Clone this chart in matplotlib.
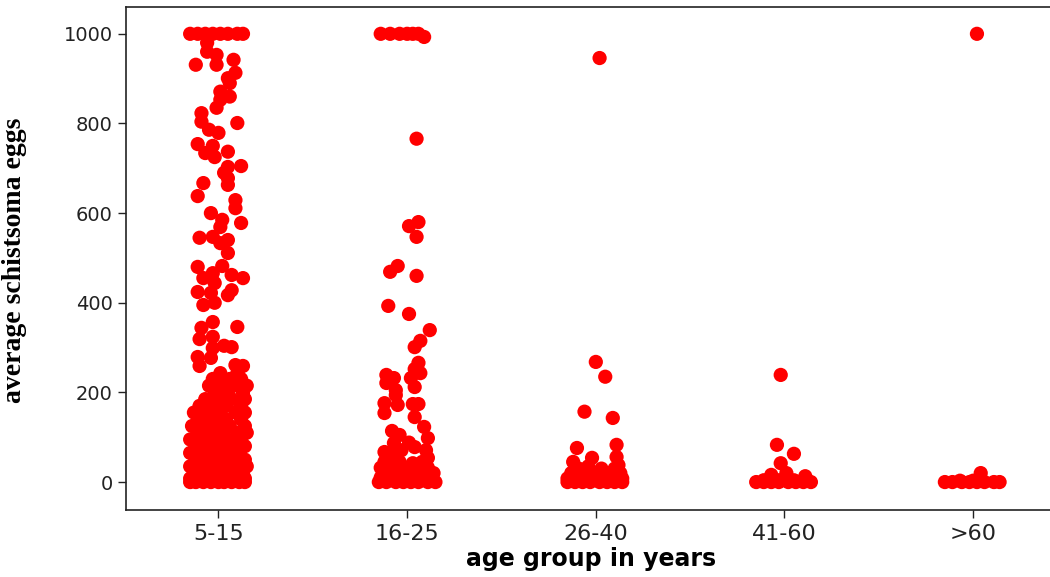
import matplotlib

matplotlib.use('Agg')

import matplotlib.pyplot as plt
import numpy as np

# age groups on the x axis
groups = ['5-15', '16-25', '26-40', '41-60', '>60']

# (average eggs, jitter), one list per group
g1_pts = [
    # the 1000 cap
    (1000, -0.15), (1000, -0.11), (1000, -0.07), (1000, -0.03), (1000, 0.01), (1000, 0.05), (1000, 0.10), (1000, 0.13),
    (980, -0.06), (960, -0.06), (953, -0.01), (931, -0.12), (931, -0.01), (942, 0.08), (913, 0.09), (901, 0.05),
    (890, 0.06), (871, 0.01), (860, 0.06), (853, 0.01), (835, -0.01), (823, -0.09), (804, -0.09), (801, 0.10),
    (786, -0.05), (779, 0.0), (754, -0.11), (750, -0.03), (734, -0.07), (737, 0.05), (725, -0.02), (705, 0.12),
    (703, 0.05), (690, 0.03), (678, 0.05), (667, -0.08), (663, 0.05), (638, -0.11), (629, 0.09), (611, 0.09),
    (600, -0.04), (585, 0.02), (578, 0.12), (569, 0.01), (545, -0.10), (547, -0.03), (540, 0.05), (533, 0.01),
    (511, 0.05), (480, -0.11), (482, 0.02), (466, -0.03), (455, -0.08), (462, 0.07), (455, 0.13), (444, -0.02),
    (424, -0.11), (422, -0.04), (417, 0.05), (428, 0.07), (395, -0.08), (400, -0.02), (357, -0.03), (344, -0.09),
    (346, 0.10), (319, -0.10), (324, -0.03), (299, -0.03), (304, 0.03), (301, 0.07), (279, -0.11), (277, -0.04),
    (259, -0.10), (261, 0.09), (259, 0.13), (243, 0.01), (243, 0.10),
    # dense bottom part
    (230, -0.03), (230, 0.06), (230, 0.12),
    (215, -0.05), (215, 0.02), (215, 0.10), (215, 0.15),
    (200, -0.02), (200, 0.05), (200, 0.13),
    (185, -0.07), (185, 0.0), (185, 0.07), (185, 0.14),
    (170, -0.10), (170, -0.03), (170, 0.04), (170, 0.12),
    (155, -0.13), (155, -0.06), (155, 0.01), (155, 0.09), (155, 0.14),
    (140, -0.10), (140, -0.03), (140, 0.04), (140, 0.12),
    (125, -0.14), (125, -0.07), (125, 0.0), (125, 0.06), (125, 0.14),
    (110, -0.11), (110, -0.04), (110, 0.02), (110, 0.10), (110, 0.15),
    (95, -0.15), (95, -0.08), (95, -0.01), (95, 0.05), (95, 0.12),
    (80, -0.12), (80, -0.05), (80, 0.01), (80, 0.08), (80, 0.14),
    (65, -0.15), (65, -0.09), (65, -0.02), (65, 0.04), (65, 0.11),
    (50, -0.12), (50, -0.06), (50, 0.01), (50, 0.07), (50, 0.14),
    (35, -0.15), (35, -0.09), (35, -0.03), (35, 0.04), (35, 0.10), (35, 0.15),
    (20, -0.13), (20, -0.06), (20, 0.0), (20, 0.06), (20, 0.13),
    (8, -0.15), (8, -0.10), (8, -0.04), (8, 0.02), (8, 0.08), (8, 0.14),
    (0, -0.15), (0, -0.12), (0, -0.08), (0, -0.04), (0, 0.0), (0, 0.03), (0, 0.07), (0, 0.11), (0, 0.14),
]

g2_pts = [
    (1000, -0.14), (1000, -0.09), (1000, -0.04), (1000, 0.0), (1000, 0.03), (1000, 0.06), (993, 0.09),
    (766, 0.05), (571, 0.01), (580, 0.06), (547, 0.05), (469, -0.09), (482, -0.05), (460, 0.05),
    (393, -0.10), (375, 0.01), (339, 0.12), (315, 0.07), (301, 0.04), (266, 0.06), (252, 0.04),
    (243, 0.07), (239, -0.11), (232, -0.07), (221, -0.11), (232, 0.02), (205, -0.06), (212, 0.04),
    (194, -0.06), (176, -0.12), (172, -0.05), (174, 0.03), (174, 0.06), (154, -0.12), (145, 0.04),
    (123, 0.09), (114, -0.08), (98, 0.11), (87, -0.07), (78, 0.04), (71, 0.10), (67, -0.12),
    (71, -0.03), (54, 0.11), (60, -0.08), (88, 0.01), (105, -0.04),
    (45, -0.12), (45, -0.04), (42, 0.03), (45, 0.08),
    (32, -0.14), (32, -0.08), (32, -0.01), (30, 0.05), (32, 0.11),
    (20, -0.11), (20, -0.05), (20, 0.01), (20, 0.08), (20, 0.14),
    (10, -0.14), (10, -0.08), (10, -0.02), (10, 0.04), (10, 0.10),
    (0, -0.15), (0, -0.11), (0, -0.06), (0, -0.02), (0, 0.02), (0, 0.06), (0, 0.11), (0, 0.15),
]

g3_pts = [
    (946, 0.02), (268, 0.0), (235, 0.05), (157, -0.06), (143, 0.09), (76, -0.10), (83, 0.11),
    (54, -0.02), (56, 0.11), (45, -0.12), (38, 0.12),
    (30, -0.09), (30, 0.03), (30, 0.10), (35, -0.04),
    (20, -0.13), (20, -0.05), (20, 0.01), (20, 0.06), (20, 0.13),
    (8, -0.15), (8, -0.07), (8, 0.0), (8, 0.07), (8, 0.14),
    (0, -0.15), (0, -0.11), (0, -0.07), (0, -0.03), (0, 0.02), (0, 0.06), (0, 0.10), (0, 0.14),
]

g4_pts = [
    (239, -0.02), (83, -0.04), (63, 0.05), (42, -0.02), (16, -0.07), (20, 0.01), (13, 0.11),
    (4, -0.11), (4, -0.03), (4, 0.05),
    (0, -0.15), (0, -0.11), (0, -0.07), (0, -0.03), (0, 0.02), (0, 0.06), (0, 0.10), (0, 0.14),
]

g5_pts = [
    (1000, 0.02), (20, 0.04), (3, -0.07), (3, 0.0),
    (0, -0.15), (0, -0.11), (0, -0.06), (0, -0.02), (0, 0.02), (0, 0.06), (0, 0.11), (0, 0.14),
]

all_groups = [g1_pts, g2_pts, g3_pts, g4_pts, g5_pts]

fig = plt.figure(figsize=(10.5, 5.77), dpi=100)
ax = fig.add_axes([0.12, 0.116, 0.885, 0.872])

for i, pts in enumerate(all_groups):
    ys = np.array([p[0] for p in pts], dtype=float)
    jit = np.array([p[1] for p in pts], dtype=float)
    ax.scatter(i + jit, ys, s=105, color='#ff0000', edgecolors='none', zorder=3)

ax.set_xlim(-0.49, 4.435)
ax.set_ylim(-62.5, 1060)
ax.set_xticks(range(len(groups)))
ax.set_xticklabels(groups, fontsize=16)
ax.set_yticks([0, 200, 400, 600, 800, 1000])
for lbl in ax.get_yticklabels():
    lbl.set_fontsize(14)

ax.tick_params(direction='out', length=6, width=1, colors='#222222')
ax.tick_params(axis='x', pad=4)
for side in ['left', 'bottom', 'top']:
    ax.spines[side].set_color('#222222')
    ax.spines[side].set_linewidth(1.2)
ax.spines['right'].set_visible(False)

ax.set_xlabel('age group in years', fontweight='bold', fontsize=17, labelpad=2)
ax.set_ylabel('average schistsoma eggs', family=['Liberation Serif', 'DejaVu Serif'],
              fontweight='bold', fontsize=20)
ax.yaxis.set_label_coords(-0.107, 0.497)

plt.savefig('out.png', dpi=100)
